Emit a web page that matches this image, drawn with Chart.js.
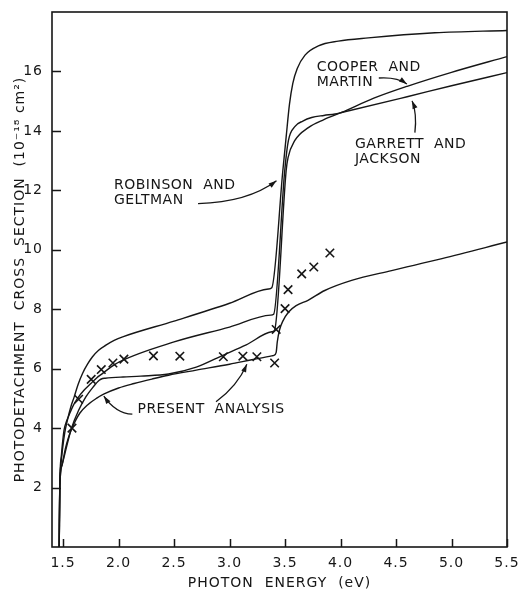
<!DOCTYPE html>
<html>
<head>
<meta charset="utf-8">
<script src="https://cdn.jsdelivr.net/npm/chart.js@4.4.1/dist/chart.umd.min.js"></script>
<style>
  html, body { margin: 0; padding: 0; background: #fff; }
  #wrap { width: 521px; height: 590px; }
</style>
</head>
<body>
<div id="wrap"><canvas id="c" width="521" height="590"></canvas></div>
<script>
// Photon energy (eV) and cross section (1e-18 cm^2) for each calculation
const robinsonX = [1.465, 1.47, 1.48, 1.494, 1.515, 1.539, 1.57, 1.60, 1.635, 1.675, 1.72, 1.765, 1.82, 1.886, 1.96, 2.037, 2.5, 3.0, 3.35, 3.38, 3.48, 3.51, 3.54, 3.57, 3.61, 3.68, 3.80, 3.98, 4.25, 4.85, 5.5];
const robinsonY = [0, 2.1, 2.75, 3.27, 3.85, 4.27, 4.72, 5.05, 5.47, 5.84, 6.15, 6.4, 6.62, 6.79, 6.95, 7.07, 7.6, 8.2, 8.68, 8.72, 12.66, 13.8, 14.9, 15.6, 16.1, 16.55, 16.86, 17.02, 17.13, 17.3, 17.38];

const garrettX = [1.465, 1.47, 1.485, 1.509, 1.53, 1.554, 1.59, 1.63, 1.69, 1.75, 1.80, 1.856, 1.93, 2.007, 2.5, 3.0, 3.37, 3.397, 3.497, 3.53, 3.59, 3.66, 3.74, 3.85, 3.95, 4.01, 4.6, 5.0, 5.5];
const garrettY = [0, 2.05, 3.1, 3.94, 4.22, 4.44, 4.75, 5.0, 5.28, 5.5, 5.68, 5.84, 6.05, 6.23, 6.9, 7.4, 7.8, 7.83, 12.66, 13.67, 14.15, 14.33, 14.45, 14.52, 14.57, 14.62, 15.15, 15.52, 15.96];

const cooperX = [1.465, 1.47, 1.49, 1.52, 1.55, 1.575, 1.64, 1.705, 1.77, 1.826, 1.856, 1.88, 2.04, 2.2, 2.45, 2.7, 2.94, 3.15, 3.38, 3.405, 3.51, 3.527, 3.587, 3.71, 3.85, 4.01, 4.3, 4.6, 5.0, 5.5];
const cooperY = [0, 2.0, 2.75, 3.2, 3.65, 3.99, 4.6, 5.05, 5.38, 5.61, 5.67, 5.68, 5.72, 5.75, 5.82, 6.05, 6.45, 6.8, 7.24, 7.29, 12.66, 13.1, 13.67, 14.11, 14.38, 14.62, 15.1, 15.5, 15.97, 16.5];

const presentX = [1.465, 1.47, 1.49, 1.52, 1.55, 1.58, 1.65, 1.72, 1.80, 1.87, 2.0, 2.14, 2.3, 2.45, 2.7, 3.0, 3.2, 3.38, 3.40, 3.42, 3.43, 3.45, 3.48, 3.53, 3.6, 3.707, 3.858, 4.1, 4.46, 4.914, 5.5];
const presentY = [0, 2.0, 2.75, 3.3, 3.7, 4.0, 4.5, 4.78, 5.0, 5.15, 5.35, 5.5, 5.65, 5.78, 5.95, 6.15, 6.3, 6.43, 6.45, 6.55, 6.9, 7.3, 7.6, 7.9, 8.12, 8.3, 8.63, 8.97, 9.3, 9.7, 10.26];

// Measured cross sections (crosses)
const measuredX = [1.58, 1.64, 1.753, 1.844, 1.949, 2.048, 2.314, 2.552, 2.944, 3.12, 3.246, 3.406, 3.42, 3.50, 3.527, 3.65, 3.759, 3.904];
const measuredY = [4.0, 4.97, 5.64, 5.97, 6.19, 6.32, 6.43, 6.42, 6.40, 6.42, 6.40, 6.19, 7.32, 8.02, 8.66, 9.19, 9.42, 9.89];

// Axis ticks
const xTicks = [1.5, 2.0, 2.5, 3.0, 3.5, 4.0, 4.5, 5.0, 5.5];
const yTicks = [2, 4, 6, 8, 10, 12, 14, 16];

const INK = '#161616';
const FONT = 'DejaVu Sans';

const pts = (xs, ys) => xs.map((x, i) => ({ x, y: ys[i] }));

const curve = (label, xs, ys) => ({
  label,
  data: pts(xs, ys),
  borderColor: INK,
  borderWidth: 1.4,
  pointRadius: 0,
  fill: false,
  cubicInterpolationMode: 'monotone'
});

// Curve labels with their leader arrows, placed in data units
const notes = [
  { lines: ['COOPER  AND', 'MARTIN'], x: 3.785, y: 16.13 },
  { lines: ['GARRETT  AND', 'JACKSON'], x: 4.13, y: 13.56 },
  { lines: ['ROBINSON  AND', 'GELTMAN'], x: 1.958, y: 12.16 },
  { lines: ['PRESENT  ANALYSIS'], x: 2.17, y: 4.63 }
];
const arrows = [
  { from: [4.345, 15.78], ctrl: [4.507, 15.82], to: [4.598, 15.58] },
  { from: [4.67, 13.94], ctrl: [4.69, 14.58], to: [4.645, 15.01] },
  { from: [2.716, 11.55], ctrl: [3.165, 11.6], to: [3.423, 12.32] },
  { from: [2.124, 4.47], ctrl: [1.973, 4.5], to: [1.867, 5.08] },
  { from: [2.878, 4.89], ctrl: [3.07, 5.41], to: [3.156, 6.15] }
];

// Slightly spaced lettering for all chart text
const spacingPlugin = {
  id: 'letterSpacing',
  beforeDraw(chart) { chart.ctx.letterSpacing = '1px'; },
  afterDraw(chart) { chart.ctx.letterSpacing = '0px'; }
};

const framePlugin = {
  id: 'frameAndNotes',
  afterDraw(chart) {
    const { ctx, chartArea: a, scales: { x, y } } = chart;
    ctx.save();
    ctx.strokeStyle = INK;
    ctx.fillStyle = INK;

    // plot frame
    ctx.lineWidth = 1.6;
    ctx.strokeRect(a.left, a.top, a.right - a.left, a.bottom - a.top);

    // inward tick marks
    ctx.lineWidth = 1.5;
    ctx.beginPath();
    xTicks.forEach(v => {
      const px = Math.round(x.getPixelForValue(v)) + 0.5;
      ctx.moveTo(px, a.bottom);
      ctx.lineTo(px, a.bottom - 8);
    });
    yTicks.forEach(v => {
      const py = Math.round(y.getPixelForValue(v)) + 0.5;
      ctx.moveTo(a.left, py);
      ctx.lineTo(a.left + 9, py);
    });
    ctx.stroke();

    // labels
    ctx.font = '14px "' + FONT + '"';
    ctx.textAlign = 'left';
    ctx.textBaseline = 'middle';
    ctx.letterSpacing = '0.5px';
    notes.forEach(n => {
      const px = x.getPixelForValue(n.x);
      const py = y.getPixelForValue(n.y);
      n.lines.forEach((t, i) => ctx.fillText(t, px, py + i * 15));
    });

    // leader arrows
    ctx.lineWidth = 1.3;
    arrows.forEach(ar => {
      const x0 = x.getPixelForValue(ar.from[0]), y0 = y.getPixelForValue(ar.from[1]);
      const cx = x.getPixelForValue(ar.ctrl[0]), cy = y.getPixelForValue(ar.ctrl[1]);
      const x1 = x.getPixelForValue(ar.to[0]), y1 = y.getPixelForValue(ar.to[1]);
      ctx.beginPath();
      ctx.moveTo(x0, y0);
      ctx.quadraticCurveTo(cx, cy, x1, y1);
      ctx.stroke();
      const ang = Math.atan2(y1 - cy, x1 - cx), L = 8, W = 2.6;
      ctx.beginPath();
      ctx.moveTo(x1, y1);
      ctx.lineTo(x1 - L * Math.cos(ang) + W * Math.sin(ang), y1 - L * Math.sin(ang) - W * Math.cos(ang));
      ctx.lineTo(x1 - L * Math.cos(ang) - W * Math.sin(ang), y1 - L * Math.sin(ang) + W * Math.cos(ang));
      ctx.closePath();
      ctx.fill();
    });
    ctx.restore();
  }
};

Chart.defaults.font.family = FONT;
Chart.defaults.color = INK;

new Chart(document.getElementById('c').getContext('2d'), {
  type: 'line',
  data: {
    datasets: [
      curve('Robinson and Geltman', robinsonX, robinsonY),
      curve('Garrett and Jackson', garrettX, garrettY),
      curve('Cooper and Martin', cooperX, cooperY),
      curve('Present analysis', presentX, presentY),
      {
        label: 'Measured',
        data: pts(measuredX, measuredY),
        showLine: false,
        pointStyle: 'crossRot',
        pointRadius: 6,
        pointBorderWidth: 1.6,
        borderColor: INK,
        backgroundColor: INK
      }
    ]
  },
  options: {
    responsive: false,
    animation: false,
    devicePixelRatio: 1,
    layout: { autoPadding: false, padding: { top: 12, right: 14, left: 0, bottom: 0 } },
    plugins: { legend: { display: false }, tooltip: { enabled: false } },
    scales: {
      x: {
        type: 'linear',
        min: 1.4,
        max: 5.5,
        afterBuildTicks: s => { s.ticks = xTicks.map(v => ({ value: v })); },
        afterFit: s => { s.height = 43; s.paddingLeft = 0; s.paddingRight = 0; },
        grid: { display: false, drawTicks: false },
        border: { display: false },
        ticks: {
          padding: 8,
          maxRotation: 0,
          autoSkip: false,
          font: { size: 14 },
          callback: v => Number(v).toFixed(1)
        },
        title: {
          display: true,
          text: 'PHOTON  ENERGY  (eV)',
          font: { size: 14, lineHeight: 1 },
          padding: { top: 0, bottom: 0 }
        }
      },
      y: {
        type: 'linear',
        min: 0,
        max: 18,
        afterBuildTicks: s => { s.ticks = yTicks.map(v => ({ value: v })); },
        afterFit: s => { s.width = 52; s.paddingTop = 0; s.paddingBottom = 0; },
        grid: { display: false, drawTicks: false },
        border: { display: false },
        ticks: { padding: 9, font: { size: 14 } },
        title: {
          display: true,
          text: 'PHOTODETACHMENT  CROSS  SECTION  (10⁻¹⁸ cm²)',
          font: { size: 14 },
          padding: { top: 12, bottom: 0 }
        }
      }
    }
  },
  plugins: [spacingPlugin, framePlugin]
});
</script>
</body>
</html>
